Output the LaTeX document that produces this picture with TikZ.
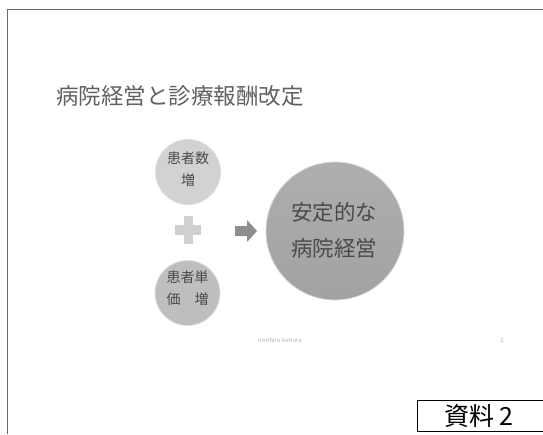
\documentclass[tikz,border=0pt]{standalone}
\usepackage{fontspec}
\setmainfont{Noto Sans CJK JP}
\definecolor{framegray}{HTML}{6A6A6A}
\definecolor{titlegray}{HTML}{606060}
\definecolor{textgray}{HTML}{4A4A4A}
\definecolor{lightcirc}{HTML}{D2D2D3}
\definecolor{midcirc}{HTML}{BEBEBF}
\definecolor{bigtop}{HTML}{AEAEB0}
\definecolor{bigbot}{HTML}{A2A2A4}
\definecolor{plusgray}{HTML}{D0D0D0}
\definecolor{arrowgray}{HTML}{8E8E8E}
\definecolor{footgray}{HTML}{B0B0B0}
\tikzset{
  smallcirc/.style={circle, inner sep=0pt, minimum size=65pt, draw=white!88!black, line width=0.8pt},
  circtext/.style={text=textgray, align=center, font=\fontsize{14}{22}\selectfont},
  bigtext/.style={text=textgray, align=center, font=\fontsize{21.5}{36}\selectfont},
}
\begin{document}
\begin{tikzpicture}[x=1pt, y=-1pt]
\useasboundingbox (0,0) rectangle (543,434);
% frame
\draw[framegray, line width=1.5pt] (7.5,434) -- (7.5,9.5) -- (543,9.5);
% title
\node[anchor=west, text=titlegray, font=\fontsize{22.5}{24}\selectfont, inner sep=0pt] (title) at (56,96) {病院経営と診療報酬改定};
% circles
\node[smallcirc, fill=lightcirc] (c1) at (188,172) {};
\node[circtext] (t1) at (188,169.5) {患者数\\増};
\node[smallcirc, fill=midcirc] (c2) at (187.5,293) {};
\node[circtext] (t2) at (187.5,288.5) {患者単\\価　増};
\node[circle, inner sep=0pt, minimum size=138pt, top color=bigtop, bottom color=bigbot, draw=white!85!black, line width=0.8pt] (big) at (335,231) {};
\node[bigtext] (bt) at (334,230) {安定的な\\病院経営};
% plus
\fill[plusgray] (183.5,216) rectangle (192.5,244);
\fill[plusgray] (175,225) rectangle (201,235);
% arrow
\fill[arrowgray] (235,226) -- (247,226) -- (247,220) -- (257,231) -- (247,242) -- (247,236) -- (235,236) -- cycle;
% footer
\node[text=footgray, font=\fontsize{6}{7}\selectfont, inner sep=0pt] (foot) at (280,340) {norihiro kimura};
\node[text=footgray, font=\fontsize{6}{7}\selectfont, inner sep=0pt] (pg) at (502,340) {2};
% label box
\draw[black, line width=1pt] (417,400.5) rectangle (548,431);
\node[font=\fontsize{25}{26}\selectfont, inner sep=0pt] (lbl) at (479,416) {資料\hspace{5pt}2};
\end{tikzpicture}
\end{document}
